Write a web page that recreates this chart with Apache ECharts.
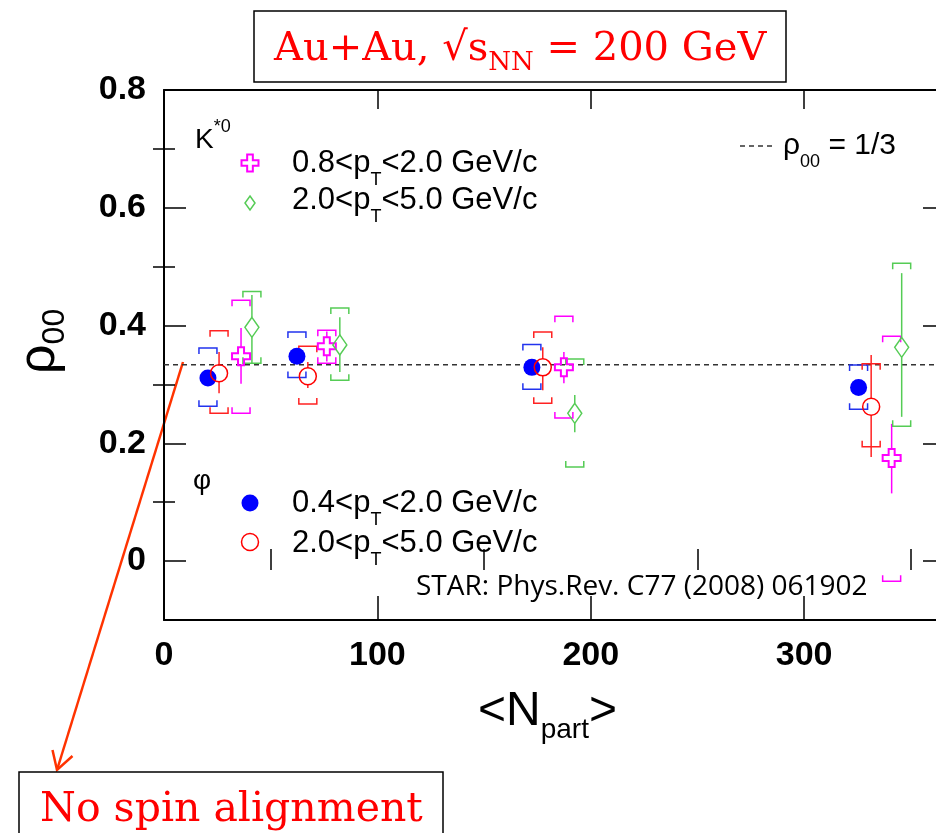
<!DOCTYPE html>
<html>
<head>
<meta charset="utf-8">
<script src="https://cdn.jsdelivr.net/npm/echarts@6/dist/echarts.min.js"></script>
<style>
  html, body { margin: 0; padding: 0; background: #fff; }
  #chart { width: 936px; height: 833px; }
</style>
</head>
<body>
<div id="chart"></div>
<script>
// Spin density matrix element rho_00 of K*0 and phi vs <N_part>, Au+Au 200 GeV

// axes
const X_MAX = 366;
const X_TICKS = [0, 100, 200, 300];
const X_MINOR = [50, 150, 250, 350];
const Y_MIN = -0.1;
const Y_MAX = 0.8;
const Y_TICKS = [0, 0.2, 0.4, 0.6, 0.8];
const Y_MINOR = [0.1, 0.3, 0.5, 0.7];
const RHO_NO_ALIGN = 1 / 3;

// phi, 0.4 < pT < 2.0 GeV/c
const phiLowNpart  = [20.6, 62.3, 172.4, 325.5];
const phiLowRho    = [0.311, 0.348, 0.329, 0.295];
const phiLowStatLo = [0.301, 0.338, 0.319, 0.285];
const phiLowStatHi = [0.321, 0.358, 0.339, 0.305];
const phiLowSysLo  = [0.263, 0.312, 0.292, 0.258];
const phiLowSysHi  = [0.362, 0.389, 0.368, 0.333];

// phi, 2.0 < pT < 5.0 GeV/c
const phiHighNpart  = [25.8, 67.4, 177.5, 331.4];
const phiHighRho    = [0.319, 0.314, 0.329, 0.262];
const phiHighStatLo = [0.285, 0.294, 0.290, 0.177];
const phiHighStatHi = [0.355, 0.338, 0.363, 0.350];
const phiHighSysLo  = [0.251, 0.267, 0.268, 0.194];
const phiHighSysHi  = [0.391, 0.365, 0.389, 0.335];

// K*0, 0.8 < pT < 2.0 GeV/c
const kLowNpart  = [36.1, 76.3, 187.4, 341.0];
const kLowRho    = [0.348, 0.365, 0.329, 0.175];
const kLowStatLo = [0.301, 0.339, 0.302, 0.115];
const kLowStatHi = [0.396, 0.390, 0.355, 0.233];
const kLowSysLo  = [0.251, 0.336, 0.243, -0.034];
const kLowSysHi  = [0.443, 0.392, 0.416, 0.382];

// K*0, 2.0 < pT < 5.0 GeV/c
const kHighNpart  = [41.2, 82.4, 192.5, 345.7];
const kHighRho    = [0.397, 0.367, 0.251, 0.363];
const kHighStatLo = [0.336, 0.321, 0.219, 0.245];
const kHighStatHi = [0.452, 0.414, 0.282, 0.489];
const kHighSysLo  = [0.336, 0.307, 0.160, 0.229];
const kHighSysHi  = [0.458, 0.430, 0.343, 0.506];

const BLUE = '#0000ff', RED = '#ff0000', MAGENTA = '#ff00ff', GREEN = '#55cc55';
const SANS = "'Liberation Sans', Arial, sans-serif";
const SERIF = "'DejaVu Serif', serif";
const CROSS = 'path://M2,0L4,0L4,2L6,2L6,4L4,4L4,6L2,6L2,4L0,4L0,2L2,2Z';

const chart = echarts.init(document.getElementById('chart'), null, { renderer: 'canvas' });

// text measuring for runs with sub/superscripts
const mctx = document.createElement('canvas').getContext('2d');
function textWidth(str, size, family, weight) {
  mctx.font = (weight || 'normal') + ' ' + size + 'px ' + family;
  return mctx.measureText(str).width;
}
function textRun(x, y, parts, family, color, opts) {
  opts = opts || {};
  let cx = 0;
  const children = [];
  parts.forEach(function (p) {
    const t = p[0], size = p[1], dy = p[2] || 0;
    children.push({
      type: 'text', x: cx, y: dy, silent: true,
      style: {
        text: t, fontSize: size, fontFamily: family, fontWeight: opts.weight || 'normal',
        fill: color, textAlign: 'left', textVerticalAlign: 'middle', align: 'left', verticalAlign: 'middle'
      }
    });
    cx += textWidth(t, size, family, opts.weight);
  });
  return { type: 'group', x: x, y: y, rotation: opts.rotation || 0, silent: true, children: children };
}

function errorSeries(xs, ys, sLo, sHi, yLo, yHi, color, gap) {
  return {
    type: 'custom',
    silent: true,
    z: 2,
    xAxisIndex: 0, yAxisIndex: 0,
    data: xs.map(function (x, i) { return [x, ys[i], sLo[i], sHi[i], yLo[i], yHi[i]]; }),
    encode: { x: 0, y: [1, 2, 3, 4, 5] },
    renderItem: function (params, api) {
      const x = api.value(0);
      const c = api.coord([x, api.value(1)]);
      const pLo = api.coord([x, api.value(2)])[1];
      const pHi = api.coord([x, api.value(3)])[1];
      const sBot = api.coord([x, api.value(4)])[1];
      const sTop = api.coord([x, api.value(5)])[1];
      const st = { stroke: color, lineWidth: 1.5, fill: null };
      const w = 9, h = 6;
      const ch = [];
      if (pHi < c[1] - gap) ch.push({ type: 'line', shape: { x1: c[0], y1: pHi, x2: c[0], y2: c[1] - gap }, style: st });
      if (pLo > c[1] + gap) ch.push({ type: 'line', shape: { x1: c[0], y1: c[1] + gap, x2: c[0], y2: pLo }, style: st });
      ch.push({ type: 'polyline', shape: { points: [[c[0] - w, sTop + h], [c[0] - w, sTop], [c[0] + w, sTop], [c[0] + w, sTop + h]] }, style: st });
      ch.push({ type: 'polyline', shape: { points: [[c[0] - w, sBot - h], [c[0] - w, sBot], [c[0] + w, sBot], [c[0] + w, sBot - h]] }, style: st });
      return { type: 'group', children: ch };
    }
  };
}

function pts(xs, ys) { return xs.map(function (x, i) { return [x, ys[i]]; }); }

const frameLine = { show: true, onZero: false, lineStyle: { color: '#000', width: 2 } };
const tickStyle = { color: '#000', width: 1.5 };
const labelFont = { fontFamily: SANS, fontWeight: 'bold', fontSize: 34, color: '#000' };

function xAx(position, ticks, len, line, labels) {
  return {
    type: 'value', position: position, min: 0, max: X_MAX, interval: 50,
    splitLine: { show: false },
    axisLine: line ? frameLine : { show: false },
    axisTick: { show: true, inside: true, length: len, customValues: ticks, lineStyle: tickStyle },
    axisLabel: labels ? Object.assign({ show: true, customValues: X_TICKS, margin: 19, hideOverlap: false }, labelFont) : { show: false }
  };
}
function yAx(position, ticks, len, line, labels) {
  return {
    type: 'value', position: position, min: Y_MIN, max: Y_MAX, interval: 0.1,
    splitLine: { show: false },
    axisLine: line ? frameLine : { show: false },
    axisTick: { show: true, inside: true, length: len, customValues: ticks, lineStyle: tickStyle },
    axisLabel: labels ? Object.assign({
      show: true, customValues: Y_TICKS, margin: 18,
      formatter: function (v) { return Math.abs(v) < 1e-9 ? '0' : v.toFixed(1); }
    }, labelFont) : { show: false }
  };
}

const legendCross = function (cx, cy, s) {
  const a = s / 2, b = s / 6;
  return [[cx - b, cy - a], [cx + b, cy - a], [cx + b, cy - b], [cx + a, cy - b], [cx + a, cy + b], [cx + b, cy + b],
          [cx + b, cy + a], [cx - b, cy + a], [cx - b, cy + b], [cx - a, cy + b], [cx - a, cy - b], [cx - b, cy - b]];
};

const option = {
  animation: false,
  backgroundColor: '#fff',
  grid: { left: 164, top: 90, width: 781, height: 530, containLabel: false, outerBoundsMode: 'none' },
  xAxis: [
    xAx('bottom', X_TICKS, 24, true, true),
    xAx('bottom', X_MINOR, 12, false, false),
    xAx('top', X_TICKS, 19, true, false),
    xAx('top', X_MINOR, 9, false, false)
  ],
  yAxis: [
    yAx('left', Y_TICKS, 22, true, true),
    yAx('left', Y_MINOR, 11, false, false),
    yAx('right', Y_TICKS, 22, true, false),
    yAx('right', Y_MINOR, 11, false, false)
  ],
  series: [
    {
      type: 'line', silent: true, z: 1, symbol: 'none',
      data: [[0, RHO_NO_ALIGN], [X_MAX, RHO_NO_ALIGN]],
      lineStyle: { color: '#333', width: 1.5, type: [5, 4] }
    },
    errorSeries(phiLowNpart, phiLowRho, phiLowStatLo, phiLowStatHi, phiLowSysLo, phiLowSysHi, '#2233ee', 8.5),
    errorSeries(phiHighNpart, phiHighRho, phiHighStatLo, phiHighStatHi, phiHighSysLo, phiHighSysHi, '#ff2222', 8.5),
    errorSeries(kLowNpart, kLowRho, kLowStatLo, kLowStatHi, kLowSysLo, kLowSysHi, MAGENTA, 9),
    errorSeries(kHighNpart, kHighRho, kHighStatLo, kHighStatHi, kHighSysLo, kHighSysHi, GREEN, 10),
    {
      type: 'scatter', z: 3, silent: true, data: pts(phiLowNpart, phiLowRho),
      symbol: 'circle', symbolSize: 17, itemStyle: { color: BLUE, opacity: 1 }
    },
    {
      type: 'scatter', z: 3, silent: true, data: pts(phiHighNpart, phiHighRho),
      symbol: 'circle', symbolSize: 17,
      itemStyle: { color: 'rgba(0,0,0,0)', borderColor: RED, borderWidth: 1.5, opacity: 1 }
    },
    {
      type: 'scatter', z: 3, silent: true, data: pts(kLowNpart, kLowRho),
      symbol: CROSS, symbolSize: 18, symbolKeepAspect: true,
      itemStyle: { color: 'rgba(0,0,0,0)', borderColor: MAGENTA, borderWidth: 2, opacity: 1 }
    },
    {
      type: 'scatter', z: 3, silent: true, data: pts(kHighNpart, kHighRho),
      symbol: 'diamond', symbolSize: [14, 20],
      itemStyle: { color: 'rgba(0,0,0,0)', borderColor: GREEN, borderWidth: 1.5, opacity: 1 }
    }
  ],
  graphic: {
    elements: [
      // title box
      { type: 'rect', silent: true, shape: { x: 254, y: 11, width: 532, height: 71 },
        style: { fill: '#fff', stroke: '#000', lineWidth: 1.5 } },
      textRun(274, 50, [['Au+Au, \u221As', 40], ['NN', 26, 13], [' = 200 GeV', 40]], SERIF, RED),

      // K*0 legend
      textRun(195, 140, [['K', 28], ['*0', 18, -13]], SANS, '#000'),
      { type: 'polygon', silent: true, shape: { points: legendCross(250, 163, 17) },
        style: { fill: 'none', stroke: MAGENTA, lineWidth: 2 } },
      textRun(292, 163, [['0.8<p', 31], ['T', 18, 17], ['<2.0 GeV/c', 31]], SANS, '#000'),
      { type: 'polygon', silent: true, shape: { points: [[250, 196], [255, 203], [250, 210], [245, 203]] },
        style: { fill: 'none', stroke: GREEN, lineWidth: 1.5 } },
      textRun(292, 200, [['2.0<p', 31], ['T', 18, 17], ['<5.0 GeV/c', 31]], SANS, '#000'),

      // phi legend
      textRun(193, 481, [['\u03C6', 28]], SANS, '#000'),
      { type: 'circle', silent: true, shape: { cx: 250, cy: 503, r: 8.5 }, style: { fill: BLUE } },
      textRun(292, 503, [['0.4<p', 31], ['T', 18, 17], ['<2.0 GeV/c', 31]], SANS, '#000'),
      { type: 'circle', silent: true, shape: { cx: 250, cy: 542, r: 8.5 }, style: { fill: 'none', stroke: RED, lineWidth: 1.5 } },
      textRun(292, 543, [['2.0<p', 31], ['T', 18, 17], ['<5.0 GeV/c', 31]], SANS, '#000'),

      // reference line legend
      { type: 'line', silent: true, shape: { x1: 740, y1: 146, x2: 775, y2: 146 },
        style: { stroke: '#333', lineWidth: 1.5, lineDash: [5, 4] } },
      textRun(783, 146, [['\u03C1', 30], ['00', 18, 16], [' = 1/3', 30]], SANS, '#000'),

      // reference
      textRun(416, 587, [['STAR: Phys.Rev. C77 (2008) 061902', 28]], "'Open Sans', sans-serif", '#000'),

      // axis titles
      textRun(478, 712, [['<N', 48], ['part', 28, 18], ['>', 48]], SANS, '#000'),
      textRun(40, 374, [['\u03C1', 52], ['00', 32, 15]], SANS, '#000', { rotation: Math.PI / 2 }),

      // arrow to the annotation box
      { type: 'polyline', silent: true, shape: { points: [[183, 362], [57, 770]] },
        style: { stroke: '#ff3300', lineWidth: 2.5, fill: null } },
      { type: 'polyline', silent: true, shape: { points: [[72.5, 756], [57, 770], [52.5, 750]] },
        style: { stroke: '#ff3300', lineWidth: 2.5, fill: null, lineJoin: 'miter' } },

      // annotation box
      { type: 'rect', silent: true, shape: { x: 19, y: 772, width: 424, height: 80 },
        style: { fill: '#fff', stroke: '#000', lineWidth: 1.5 } },
      textRun(40, 810, [['No spin alignment', 41]], SERIF, RED)
    ]
  }
};

chart.setOption(option);
</script>
</body>
</html>
